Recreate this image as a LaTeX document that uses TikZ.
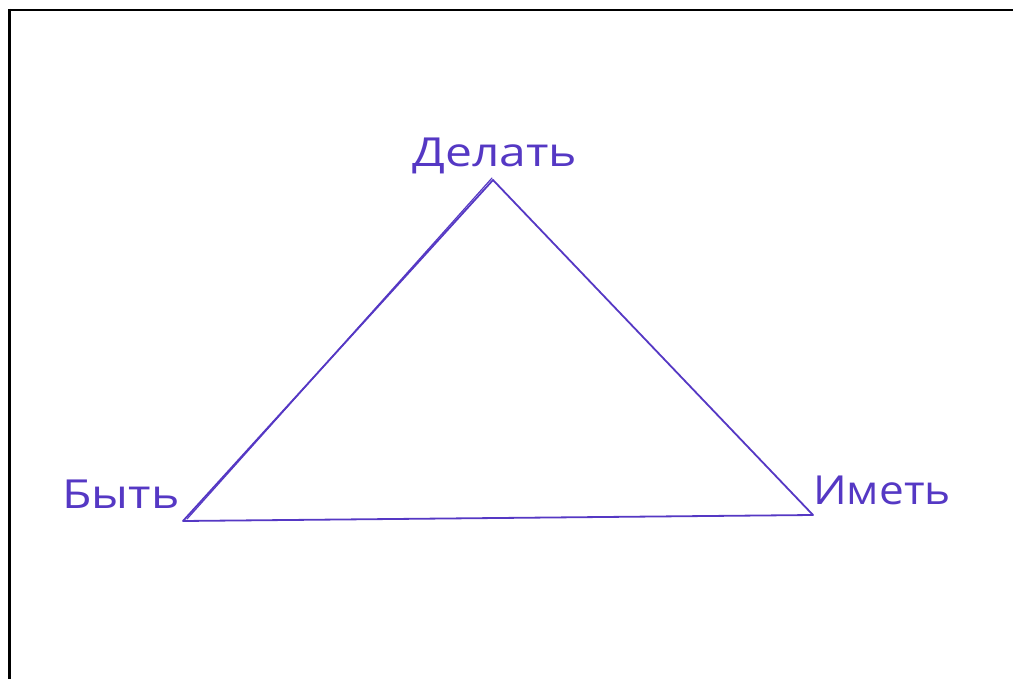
\documentclass[tikz,border=0pt]{standalone}
\usepackage{fontspec}
\setmainfont{Open Sans}
\definecolor{ink}{HTML}{5538C4}
\tikzset{
  edge/.style={draw=ink, line width=1.8pt, line cap=round, line join=round},
  lbl/.style={text=ink, font=\fontsize{40}{44}\selectfont, inner sep=0pt, xscale=1.2},
  frame/.style={draw=black}
}
\begin{document}
\begin{tikzpicture}[x=1pt,y=-1pt]
\useasboundingbox (0,0) rectangle (1013,679);
\fill[white] (0,0) rectangle (1013,679);
\draw[frame, line width=3pt] (9.5,9) -- (9.5,679);
\draw[frame, line width=2pt] (8,10) -- (1013,10);
\coordinate (top) at (493,180);
\coordinate (left) at (183,521);
\coordinate (right) at (813,515);
\coordinate (left2) at (187,519);
\draw[edge] (left) -- (top) -- (right) -- (left);
\draw[edge, line width=1.2pt] (left2) -- ([xshift=-1pt,yshift=2pt]top);
\node[lbl] (d) at (495,156) {Делать};
\node[lbl] (b) at (121,494) {Быть};
\node[lbl, xscale=0.92] (i) at (882,490) {Иметь};
\end{tikzpicture}
\end{document}
